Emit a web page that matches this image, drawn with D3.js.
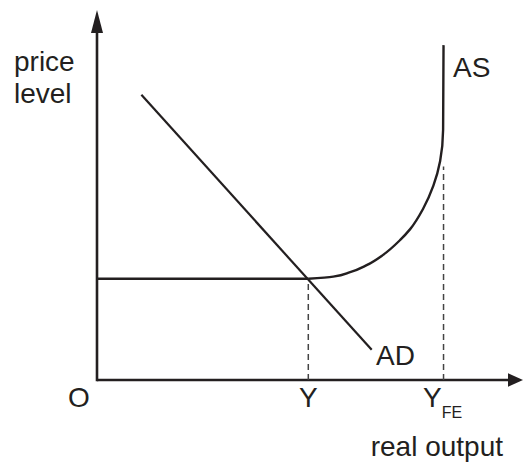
<!DOCTYPE html>
<html>
<head>
<meta charset="utf-8">
<script src="https://cdn.jsdelivr.net/npm/d3@7"></script>
<style>
  body { margin: 0; background: #fff; }
  svg text { font-family: "Liberation Sans", Arial, sans-serif; fill: #231f20; }
</style>
</head>
<body>
<svg id="chart"></svg>
<script>
// values (arbitrary units)
const asFlat = [[0, 2.75], [5, 2.75]];
const asBend = [[5, 2.75], [5.59, 2.81], [5.99, 2.93], [6.38, 3.12], [6.77, 3.4], [7.17, 3.8], [7.41, 4.1], [7.72, 4.66], [7.96, 5.28], [8.12, 5.95], [8.19, 6.8], [8.2, 9.1]];
const adPoints = [[1.05, 7.75], [6.5, 0.82]];
const outputLevels = [5, 8.2];       // Y, Y_FE
const dashTops = [2.75, 5.8];
const axisLabels = ["price", "level"];
const xAxisLabel = "real output";

const width = 523, height = 465;
const ink = "#231f20";

const svg = d3.select("#chart").attr("width", width).attr("height", height);

const x = d3.scaleLinear().domain([0, 10]).range([97, 519.6]);
const y = d3.scaleLinear().domain([0, 10]).range([380, 12]);

// axes with arrow heads
svg.append("line")
  .attr("x1", x(0)).attr("y1", y(0))
  .attr("x2", 510).attr("y2", y(0))
  .attr("stroke", ink).attr("stroke-width", 2.6);
svg.append("path")
  .attr("d", `M523,${y(0)} L508,${y(0) - 6.8} L508,${y(0) + 6.8} Z`)
  .attr("fill", ink);

svg.append("line")
  .attr("x1", x(0)).attr("y1", y(0) + 1.3)
  .attr("x2", x(0)).attr("y2", 30)
  .attr("stroke", ink).attr("stroke-width", 2.6);
svg.append("path")
  .attr("d", `M${x(0)},10 L${x(0) - 6},33 L${x(0) + 6},33 Z`)
  .attr("fill", ink);

// dashed guides
svg.selectAll(".guide")
  .data(outputLevels)
  .enter()
  .append("line")
  .attr("class", "guide")
  .attr("x1", (d) => x(d)).attr("x2", (d) => x(d))
  .attr("y1", y(0))
  .attr("y2", (d, i) => y(dashTops[i]))
  .attr("stroke", "#444")
  .attr("stroke-width", 1.5)
  .attr("stroke-dasharray", "6,4");

const line = d3.line().x((d) => x(d[0])).y((d) => y(d[1]));

// AS curve: flat part, then the bend up to the vertical
svg.append("path")
  .attr("d", line.curve(d3.curveLinear)(asFlat))
  .attr("fill", "none")
  .attr("stroke", ink)
  .attr("stroke-width", 2.4);
svg.append("path")
  .attr("d", line.curve(d3.curveMonotoneY)(asBend))
  .attr("fill", "none")
  .attr("stroke", ink)
  .attr("stroke-width", 2.4);

// AD line
svg.append("path")
  .attr("d", line.curve(d3.curveLinear)(adPoints))
  .attr("fill", "none")
  .attr("stroke", ink)
  .attr("stroke-width", 2.2);

// labels
const fs = 28;
svg.selectAll(".ylab")
  .data(axisLabels)
  .enter()
  .append("text")
  .attr("x", 14)
  .attr("y", (d, i) => 71 + i * 32)
  .attr("font-size", fs)
  .text((d) => d);

svg.append("text").attr("x", 453).attr("y", 77).attr("font-size", fs).text("AS");
svg.append("text").attr("x", 376).attr("y", 365).attr("font-size", fs).text("AD");
svg.append("text").attr("x", 68).attr("y", 407).attr("font-size", fs).text("O");

svg.append("text")
  .attr("x", x(outputLevels[0]))
  .attr("y", 407)
  .attr("text-anchor", "middle")
  .attr("font-size", fs)
  .text("Y");

const yfe = svg.append("text")
  .attr("x", x(outputLevels[1]) - 20.5)
  .attr("y", 407)
  .attr("font-size", fs);
yfe.append("tspan").text("Y");
yfe.append("tspan").attr("font-size", 16).attr("dy", 11).text("FE");

svg.append("text")
  .attr("x", 503)
  .attr("y", 456)
  .attr("text-anchor", "end")
  .attr("font-size", fs)
  .text(xAxisLabel);
</script>
</body>
</html>
